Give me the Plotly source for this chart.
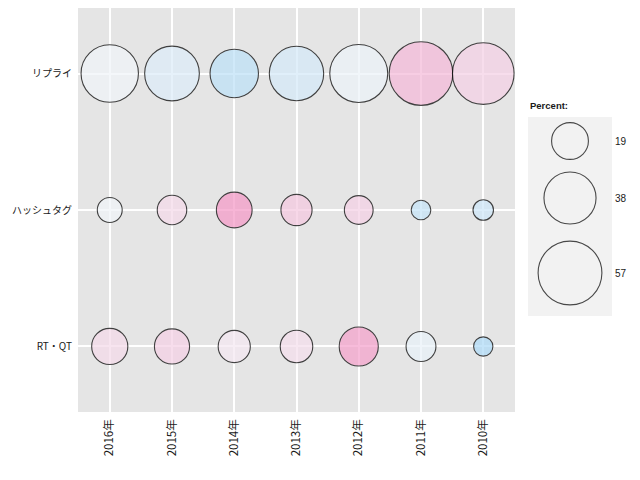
import plotly.graph_objects as go

years = ["2016年", "2015年", "2014年", "2013年", "2012年", "2011年", "2010年"]
categories = ["リプライ", "ハッシュタグ", "RT・QT"]

reply_pct = [46.1, 41.9, 32.8, 41.4, 47.0, 56.7, 53.2]
hashtag_pct = [8.7, 12.2, 17.9, 13.6, 11.6, 5.4, 5.9]
rtqt_pct = [18.3, 17.3, 14.5, 14.8, 21.4, 12.5, 5.2]

# colour score (blue negative -> pink positive), read from the fills
reply_col = [-0.05, -0.3, -0.7, -0.4, -0.1, 0.65, 0.4]
hashtag_col = [-0.05, 0.3, 1.0, 0.5, 0.4, -0.6, -0.5]
rtqt_col = [0.3, 0.4, 0.15, 0.25, 0.9, -0.15, -0.9]

legend_values = [19, 38, 57]
legend_title = "Percent:"

SIZEREF = 0.0280
colorscale = [[0.0, "#a6d8f8"], [0.5, "#f5f6f9"], [1.0, "#f599c7"]]

fig = go.Figure()

series = [(categories[0], reply_pct, reply_col),
          (categories[1], hashtag_pct, hashtag_col),
          (categories[2], rtqt_pct, rtqt_col)]
for cat, pct, col in series:
    fig.add_trace(go.Scatter(
        x=years, y=[cat] * len(years), mode="markers",
        marker=dict(size=pct, sizemode="area", sizeref=SIZEREF,
                    color=col, colorscale=colorscale, cmin=-1, cmax=1,
                    opacity=0.72, line=dict(color="black", width=1.1)),
        showlegend=False, hoverinfo="x+y+text", text=[str(v) for v in pct],
        xaxis="x", yaxis="y"))

# page offset: the browser body adds 8px around the figure
OFF = 8
# reference pixel geometry
P_L, P_R, P_T, P_B = 78, 515, 8, 412       # main panel
L_L, L_R, L_T, L_B = 528, 612, 117, 316    # legend box

legend_y = [141, 198, 273]
fig.add_trace(go.Scatter(
    x=[0.5] * 3, y=legend_y, mode="markers",
    marker=dict(size=legend_values, sizemode="area", sizeref=SIZEREF,
                color="rgba(0,0,0,0)", line=dict(color="black", width=1.1)),
    showlegend=False, hoverinfo="skip", xaxis="x2", yaxis="y2", cliponaxis=False))

for v, yy in zip(legend_values, legend_y):
    fig.add_annotation(text=str(v), x=1.0, xref="x2 domain", xshift=1, y=yy, yref="y2",
                       xanchor="left", yanchor="middle", showarrow=False,
                       font=dict(size=10, color="#1a1a1a", family="Liberation Sans, Arial"))

fig.add_annotation(text="<b>" + legend_title + "</b>", x=0, xref="x2 domain", y=1.0, yref="y2 domain",
                   yshift=4, xanchor="left", yanchor="bottom", showarrow=False,
                   font=dict(size=9.5, color="#1a1a1a", family="Liberation Sans, Arial"))

fig.add_shape(type="rect", xref="x2 domain", yref="y2 domain", x0=0, x1=1, y0=0, y1=1,
              fillcolor="#f2f2f2", line=dict(width=0), layer="below")

W, H = 640 - 2 * OFF, 480 - 2 * OFF
ml = P_L - OFF
mt = P_T - OFF
mr = W - (L_R - OFF)
mb = H - (P_B - OFF)
aw = W - ml - mr
ah = H - mt - mb

fig.update_layout(
    width=W, height=H,
    margin=dict(l=ml, r=mr, t=mt, b=mb, pad=0),
    paper_bgcolor="white",
    plot_bgcolor="#e5e5e5",
    font=dict(family="Noto Sans CJK JP", color="#1a1a1a"),
    xaxis=dict(domain=[0, (P_R - P_L) / aw], type="category", categoryorder="array",
               categoryarray=years, range=[-0.51, 6.51], showgrid=True, gridcolor="white",
               gridwidth=1.5, tickangle=-90, ticks="", showline=False, zeroline=False,
               ticklabelstandoff=4,
               tickfont=dict(size=11.5, family="Noto Sans CJK JP", color="#1a1a1a")),
    yaxis=dict(type="category", categoryorder="array", categoryarray=categories[::-1],
               range=[-0.48, 2.48], showgrid=True, gridcolor="white", gridwidth=1.5,
               ticks="", showline=False, zeroline=False, ticklabelstandoff=5,
               tickfont=dict(size=10, family="Noto Sans CJK JP", color="#1a1a1a")),
    xaxis2=dict(domain=[(L_L - P_L) / aw, 1], range=[0, 1], anchor="y2",
                showgrid=False, showticklabels=False, zeroline=False, ticks="", fixedrange=True),
    yaxis2=dict(domain=[(P_B - L_B) / ah, (P_B - L_T) / ah], range=[L_B, L_T], anchor="x2",
                showgrid=False, showticklabels=False, zeroline=False, ticks="", fixedrange=True),
)

fig.write_html("out.html")
